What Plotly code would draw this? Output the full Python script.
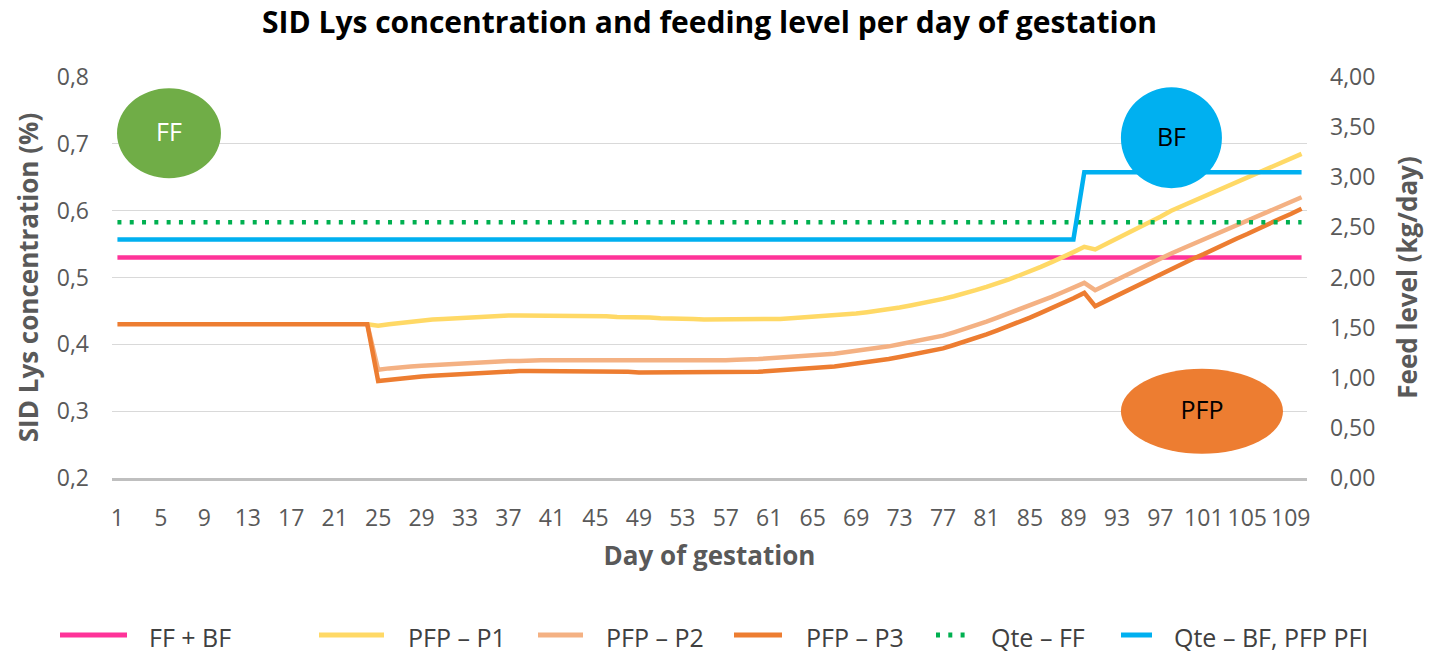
import plotly.graph_objects as go

# ---------------- data ----------------
tick_days = list(range(1, 111, 4))
tick_labels = [str(d) for d in tick_days]

ffbf_days = [1, 110]
ffbf_lys = [0.53, 0.53]

pfp_days = list(range(24, 111))
p1_lys = [
    0.430, 0.428, 0.430, 0.432, 0.434, 0.436, 0.437, 0.438, 0.439, 0.440,
    0.441, 0.442, 0.442, 0.443, 0.443, 0.443, 0.443, 0.443, 0.443, 0.443,
    0.442, 0.442, 0.442, 0.441, 0.441, 0.440, 0.440, 0.439, 0.439, 0.438,
    0.438, 0.437, 0.437, 0.437, 0.437, 0.437, 0.437, 0.438, 0.438, 0.439,
    0.440, 0.441, 0.442, 0.443, 0.445, 0.446, 0.448, 0.450, 0.453, 0.455,
    0.458, 0.461, 0.464, 0.468, 0.472, 0.476, 0.481, 0.486, 0.491, 0.497,
    0.503, 0.509, 0.516, 0.523, 0.530, 0.538, 0.546, 0.542, 0.550, 0.558,
    0.566, 0.574, 0.582, 0.591, 0.600, 0.607, 0.614, 0.621, 0.628, 0.635,
    0.642, 0.649, 0.656, 0.663, 0.670, 0.677, 0.685,
]
p2_lys = [
    0.430, 0.362, 0.364, 0.366, 0.367, 0.368, 0.369, 0.370, 0.371, 0.372,
    0.373, 0.374, 0.374, 0.375, 0.375, 0.376, 0.376, 0.376, 0.376, 0.376,
    0.376, 0.376, 0.376, 0.376, 0.375, 0.375, 0.375, 0.375, 0.375, 0.375,
    0.375, 0.376, 0.376, 0.376, 0.377, 0.377, 0.378, 0.379, 0.380, 0.381,
    0.382, 0.383, 0.384, 0.386, 0.388, 0.390, 0.392, 0.394, 0.397, 0.400,
    0.403, 0.406, 0.409, 0.413, 0.418, 0.423, 0.429, 0.434, 0.440, 0.446,
    0.452, 0.458, 0.465, 0.471, 0.478, 0.485, 0.492, 0.481, 0.489, 0.497,
    0.504, 0.512, 0.520, 0.528, 0.536, 0.543, 0.550, 0.557, 0.564, 0.571,
    0.578, 0.585, 0.592, 0.599, 0.606, 0.613, 0.620,
]
p3_days = [1] + list(range(24, 111))
p3_lys = [0.430,
    0.430, 0.345, 0.347, 0.349, 0.351, 0.352, 0.353, 0.354, 0.355, 0.356,
    0.357, 0.358, 0.359, 0.359, 0.360, 0.360, 0.360, 0.360, 0.360, 0.360,
    0.360, 0.360, 0.359, 0.359, 0.359, 0.358, 0.358, 0.358, 0.358, 0.358,
    0.358, 0.358, 0.358, 0.358, 0.358, 0.359, 0.359, 0.360, 0.361, 0.362,
    0.363, 0.364, 0.366, 0.367, 0.369, 0.371, 0.373, 0.375, 0.378, 0.381,
    0.384, 0.387, 0.390, 0.394, 0.399, 0.404, 0.409, 0.415, 0.421, 0.427,
    0.433, 0.440, 0.447, 0.454, 0.461, 0.469, 0.477, 0.457, 0.465, 0.473,
    0.481, 0.489, 0.497, 0.505, 0.513, 0.520, 0.528, 0.535, 0.543, 0.550,
    0.558, 0.565, 0.573, 0.580, 0.588, 0.595, 0.603,
]

qff_days = [1, 110]
qff_feed = [2.55, 2.55]
qbf_days = [1, 89, 90, 110]
qbf_feed = [2.38, 2.38, 3.05, 3.05]

# ---------------- figure ----------------
FONT = "Open Sans"
GREY = "#595959"
LW = 4.5
W, H = 1430, 656
ML, MR, MT, MB = 112, 123, 77, 178
PW, PH = W - ML - MR, H - MT - MB


def px_to_paper_x(px):
    return (px - ML) / PW


def px_to_paper_y(py):
    return (H - MB - py) / PH


fig = go.Figure()

series = [
    ("FF + BF", ffbf_days, ffbf_lys, "y", "#FF3399", "solid"),
    ("PFP – P1", pfp_days, p1_lys, "y", "#FFD966", "solid"),
    ("PFP – P2", pfp_days, p2_lys, "y", "#F4B183", "solid"),
    ("PFP – P3", p3_days, p3_lys, "y", "#ED7D31", "solid"),
    ("Qte – FF", qff_days, qff_feed, "y2", "#00B050", "4px,8.3px"),
    ("Qte – BF, PFP PFI", qbf_days, qbf_feed, "y2", "#00B0F0", "solid"),
]
for name, xs, ys, yax, color, dash in series:
    fig.add_trace(go.Scatter(
        x=xs, y=ys, name=name, mode="lines", yaxis=yax, showlegend=False,
        line=dict(color=color, width=LW, dash=dash),
        hoverinfo="x+y+name",
    ))

# ellipses with labels
ellipses = [
    (0.96, 10.53, 0.6486, 0.7831, "#70AD47", "FF", "white"),
    (93.37, 102.67, 0.6337, 0.7846, "#00B0F0", "BF", "black"),
    (93.37, 108.29, 0.2363, 0.3633, "#ED7D31", "PFP", "black"),
]
for x0, x1, y0, y1, fill, txt, tcol in ellipses:
    fig.add_shape(type="circle", xref="x", yref="y", x0=x0, x1=x1, y0=y0, y1=y1,
                  fillcolor=fill, line=dict(width=0), layer="above",
                  label=dict(text=txt, font=dict(family=FONT, size=25, color=tcol)))

# legend drawn below the chart (line sample start/end and text start, in px)
legend_pos = [(60, 127, 147), (319, 384, 406), (538, 583, 604),
              (734, 782, 804), (936, 966, 989), (1121, 1152, 1172)]
LEG_Y = 635
for (name, xs, ys, yax, color, dash), (lx0, lx1, tx) in zip(series, legend_pos):
    fig.add_shape(type="line", xref="paper", yref="paper",
                  x0=px_to_paper_x(lx0), x1=px_to_paper_x(lx1),
                  y0=px_to_paper_y(LEG_Y), y1=px_to_paper_y(LEG_Y),
                  line=dict(color=color, width=LW + 0.5, dash=dash))
    fig.add_annotation(text=name, xref="paper", yref="paper",
                       x=px_to_paper_x(tx), y=px_to_paper_y(LEG_Y + 2),
                       xanchor="left", yanchor="middle", showarrow=False,
                       font=dict(family=FONT, size=25, color="#404040"))

fig.update_layout(
    width=W, height=H,
    margin=dict(l=ML, r=MR, t=MT, b=MB, autoexpand=False),
    paper_bgcolor="white", plot_bgcolor="white",
    separators=", ",
    showlegend=False,
    font=dict(family=FONT, color=GREY),
    title=dict(text="<b>SID Lys concentration and feeding level per day of gestation</b>",
               x=0.5, xref="paper", xanchor="center",
               y=1 - 22 / H, yref="container", yanchor="middle",
               font=dict(family=FONT, size=30, color="black")),
    xaxis=dict(range=[0.5, 110.5], tickmode="array", tickvals=tick_days, ticktext=tick_labels,
               showgrid=False, zeroline=False, showline=True, linecolor="#BFBFBF", linewidth=3,
               ticks="", ticklabelstandoff=17,
               tickfont=dict(family=FONT, size=23, color=GREY),
               title=dict(text="<b>Day of gestation</b>", standoff=16,
                          font=dict(family=FONT, size=26, color=GREY))),
    yaxis=dict(range=[0.2, 0.8], dtick=0.1, tick0=0.2, tickformat=".1f",
               showgrid=True, gridcolor="#D9D9D9", gridwidth=1.3, zeroline=False,
               ticks="", ticklabelstandoff=22,
               tickfont=dict(family=FONT, size=23, color=GREY),
               title=dict(text="<b>SID Lys concentration (%)</b>", standoff=10,
                          font=dict(family=FONT, size=26, color=GREY))),
    yaxis2=dict(range=[0, 4], dtick=0.5, tick0=0, tickformat=".2f", overlaying="y", side="right",
                showgrid=False, zeroline=False, ticks="", ticklabelstandoff=22,
                tickfont=dict(family=FONT, size=23, color=GREY),
                title=dict(text="<b>Feed level (kg/day)</b>", standoff=24,
                           font=dict(family=FONT, size=26, color=GREY))),
)

fig.write_html("out.html", config={"displayModeBar": False},
               post_script="document.body.style.margin='0';document.body.style.overflow='hidden';")
